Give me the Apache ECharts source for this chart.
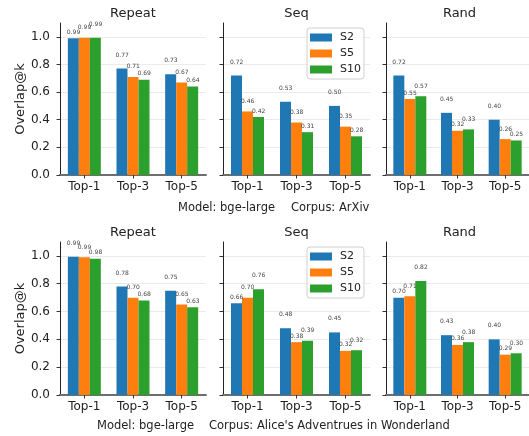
<!DOCTYPE html>
<html>
<head>
<meta charset="utf-8">
<style>
  html, body { margin: 0; padding: 0; background: #fff; }
  #chart { width: 529px; height: 436px; }
</style>
<script src="https://cdn.jsdelivr.net/npm/echarts@6/dist/echarts.min.js"></script>
</head>
<body>
<div id="chart"></div>
<script>
// Overlap@k per retrieval depth, for three sampling strategies (S2 / S5 / S10)
const categories = ['Top-1', 'Top-3', 'Top-5'];
const seriesNames = ['S2', 'S5', 'S10'];
const panelTitles = ['Repeat', 'Seq', 'Rand'];
const yTicks = [0, 0.2, 0.4, 0.6, 0.8, 1.0];

// Corpus: ArXiv — rows are S2, S5, S10
const arxivRepeat = [[0.990, 0.77, 0.73], [0.993, 0.71, 0.67], [0.994, 0.69, 0.64]];
const arxivSeq    = [[0.72, 0.53, 0.50], [0.46, 0.38, 0.35], [0.42, 0.31, 0.28]];
const arxivRand   = [[0.72, 0.45, 0.40], [0.55, 0.32, 0.26], [0.57, 0.33, 0.25]];

// Corpus: Alice's Adventures in Wonderland — rows are S2, S5, S10
const aliceRepeat = [[0.994, 0.78, 0.75], [0.991, 0.70, 0.65], [0.98, 0.68, 0.63]];
const aliceSeq    = [[0.66, 0.48, 0.45], [0.70, 0.38, 0.317], [0.76, 0.39, 0.322]];
const aliceRand   = [[0.70, 0.43, 0.40], [0.71, 0.36, 0.29], [0.82, 0.38, 0.30]];

const rowPanels = [
  [arxivRepeat, arxivSeq, arxivRand],
  [aliceRepeat, aliceSeq, aliceRand]
];
const rowFooters = [
  ['Model: bge-large', 'Corpus: ArXiv'],
  ['Model: bge-large', "Corpus: Alice's Adventrues in Wonderland"]
];

// layout
const colors = ['#1f77b4', '#ff7f0e', '#2ca02c'];
const gridLefts = [60, 223, 386];
const gridWidths = [146, 147, 147];
const rowTops = [23, 242];
const rowHeights = [152, 153];
const labelLift = [6, 10, 13.5]; // px above bar top, by rank within a group
const FONT = 'DejaVu Sans';

const grids = [], xAxes = [], yAxes = [], series = [], titles = [], legends = [], graphics = [];

rowPanels.forEach((panels, r) => {
  panels.forEach((panel, c) => {
    const idx = grids.length;
    grids.push({ left: gridLefts[c], top: rowTops[r], width: gridWidths[c], height: rowHeights[r] });
    titles.push({
      text: panelTitles[c],
      left: gridLefts[c] + gridWidths[c] / 2 - 5,
      top: rowTops[r] - 21,
      textAlign: 'center',
      textStyle: { fontFamily: FONT, fontSize: 13, fontWeight: 'normal', color: '#222' }
    });
    xAxes.push({
      type: 'category', gridIndex: idx, data: categories,
      axisLine: { show: true, lineStyle: { color: '#6e6e6e', width: 2 } },
      axisTick: { show: true, alignWithLabel: true, length: 3.5, lineStyle: { color: '#333' } },
      axisLabel: { fontFamily: FONT, fontSize: 12, color: '#222', margin: 6 },
      splitLine: { show: false }
    });
    yAxes.push({
      type: 'value', gridIndex: idx, min: 0, max: 1.1, interval: 0.2,
      name: c === 0 ? 'Overlap@k' : '',
      nameLocation: 'middle', nameGap: 33,
      nameTextStyle: { fontFamily: FONT, fontSize: 13, color: '#222' },
      axisLine: { show: true, lineStyle: { color: '#222', width: 1 } },
      axisTick: { show: true, length: 3.5, customValues: yTicks, lineStyle: { color: '#333' } },
      axisLabel: {
        show: c === 0, customValues: yTicks, margin: 10,
        fontFamily: FONT, fontSize: 12, color: '#222',
        formatter: v => v.toFixed(1)
      },
      splitLine: { show: true, lineStyle: { color: '#ebebeb', width: 1 } }
    });

    // rank of each bar within its group, used to stagger the value labels
    const ranks = panel.map(() => []);
    categories.forEach((_, k) => {
      const order = [0, 1, 2].sort((a, b) => (panel[a][k] - panel[b][k]) || (a - b));
      order.forEach((s, rank) => { ranks[s][k] = rank; });
    });

    panel.forEach((vals, s) => {
      series.push({
        type: 'bar', name: seriesNames[s],
        xAxisIndex: idx, yAxisIndex: idx,
        barWidth: 11, barGap: '0%',
        itemStyle: { color: colors[s] },
        label: {
          show: true, fontFamily: FONT, fontSize: 6, color: '#444',
          align: 'left', verticalAlign: 'middle',
          formatter: p => p.value.toFixed(2)
        },
        data: vals.map((v, k) => ({
          value: v,
          label: { position: [-1, -labelLift[ranks[s][k]]] }
        })),
        animation: false
      });
    });
  });

  legends.push({
    orient: 'vertical', left: 307, top: rowTops[r] + 5,
    data: seriesNames, icon: 'rect', itemWidth: 22, itemHeight: 8, itemGap: 1,
    padding: [2, 3, 2, 3],
    textStyle: { fontFamily: FONT, fontSize: 11, color: '#222', lineHeight: 15, padding: [0, 0, 0, 3] },
    backgroundColor: 'rgba(255,255,255,0.85)', borderColor: '#d0d0d0', borderWidth: 1, borderRadius: 3,
    selectedMode: false
  });

  const footY = r === 0 ? 208 : 426;
  const footX = r === 0 ? [178, 291] : [97, 209];
  rowFooters[r].forEach((t, i) => {
    graphics.push({
      type: 'text', x: footX[i], y: footY,
      style: { text: t, fontFamily: FONT, fontSize: 11.5, fill: '#222', textVerticalAlign: 'middle' }
    });
  });
});

const chart = echarts.init(document.getElementById('chart'), null, { renderer: 'canvas' });
chart.setOption({
  backgroundColor: '#fff',
  animation: false,
  title: titles,
  legend: legends,
  grid: grids,
  xAxis: xAxes,
  yAxis: yAxes,
  series: series,
  graphic: graphics
});
</script>
</body>
</html>
